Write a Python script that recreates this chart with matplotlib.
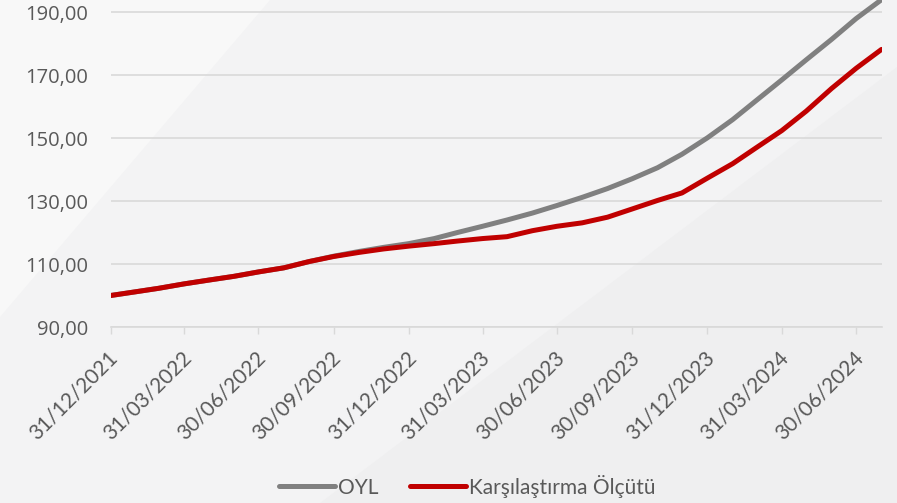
import matplotlib.pyplot as plt
import matplotlib.dates as mdates
from matplotlib.patches import Polygon
from matplotlib.transforms import ScaledTranslation
import pandas as pd

# month-end values (index, 31/12/2021 = 100)
dates = ["2021-12-31",
         "2022-01-31", "2022-02-28", "2022-03-31", "2022-04-30", "2022-05-31", "2022-06-30",
         "2022-07-31", "2022-08-31", "2022-09-30", "2022-10-31", "2022-11-30", "2022-12-31",
         "2023-01-31", "2023-02-28", "2023-03-31", "2023-04-30", "2023-05-31", "2023-06-30",
         "2023-07-31", "2023-08-31", "2023-09-30", "2023-10-31", "2023-11-30", "2023-12-31",
         "2024-01-31", "2024-02-29", "2024-03-31", "2024-04-30", "2024-05-31", "2024-06-30",
         "2024-07-31"]
oyl = [100.0,
       101.2, 102.3, 103.7, 104.9, 106.1, 107.5,
       108.8, 110.8, 112.5, 114.0, 115.3, 116.5,
       118.1, 120.0, 122.0, 124.0, 126.2, 128.6,
       131.2, 134.0, 137.1, 140.6, 144.9, 150.1,
       155.9, 162.0, 168.5, 174.9, 181.4, 188.0,
       194.0]
benchmark = [100.0,
             101.2, 102.3, 103.7, 104.9, 106.1, 107.5,
             108.8, 110.8, 112.4, 113.7, 114.8, 115.7,
             116.5, 117.3, 118.1, 118.7, 120.6, 122.0,
             123.1, 124.9, 127.5, 130.2, 132.6, 137.3,
             141.9, 147.0, 152.4, 158.6, 165.8, 172.2,
             178.2]

tick_dates = ["2021-12-31", "2022-03-31", "2022-06-30", "2022-09-30", "2022-12-31",
              "2023-03-31", "2023-06-30", "2023-09-30", "2023-12-31", "2024-03-31",
              "2024-06-30"]
tick_labels = ["31/12/2021", "31/03/2022", "30/06/2022", "30/09/2022", "31/12/2022",
               "31/03/2023", "30/06/2023", "30/09/2023", "31/12/2023", "31/03/2024",
               "30/06/2024"]
y_ticks = [90, 110, 130, 150, 170, 190]
series_names = ["OYL", "Karşılaştırma Ölçütü"]

x = pd.to_datetime(dates)
W, H = 897, 503

fig = plt.figure(figsize=(8.97, 5.03), dpi=100, facecolor="#f3f3f4")

# soft diagonal background shapes
fig.add_artist(Polygon([(0, 1), (270 / W, 1), (0, 1 - 317 / H)], closed=True,
                       transform=fig.transFigure, facecolor="#f8f8f8", edgecolor="none", zorder=-10))
fig.add_artist(Polygon([(1, 1 - 67 / H), (1, 0), (320 / W, 0)], closed=True,
                       transform=fig.transFigure, facecolor="#efeff0", edgecolor="none", zorder=-10))

ax = fig.add_axes([110.5 / W, 1 - 327 / H, (881.5 - 110.5) / W, 327 / H])
ax.set_facecolor("none")

ax.plot(x, oyl, color="#808080", lw=3.6, solid_capstyle="round", solid_joinstyle="round",
        label=series_names[0], zorder=3)
ax.plot(x, benchmark, color="#c00000", lw=3.6, solid_capstyle="round", solid_joinstyle="round",
        label=series_names[1], zorder=4)

ax.set_xlim(x[0], x[-1])
ax.set_ylim(90, 193.9)

ax.set_yticks(y_ticks)
ax.set_yticklabels([f"{v:.2f}".replace(".", ",") for v in y_ticks],
                   fontfamily="Open Sans", fontsize=14.5, color="#595959")
ax.tick_params(axis="y", length=0, pad=16)
ax.grid(axis="y", color="#d9d9d9", lw=1.2)
ax.set_axisbelow(True)

ax.set_xticks(pd.to_datetime(tick_dates))
ax.set_xticklabels(tick_labels, fontfamily="Lato", fontsize=15, color="#595959",
                   rotation=45, ha="right", va="top", rotation_mode="anchor")
ax.tick_params(axis="x", length=5, width=1, color="#d9d9d9", pad=10)
shift = ScaledTranslation(-3 / 100, 0, fig.dpi_scale_trans)
for lab in ax.get_xticklabels():
    lab.set_transform(lab.get_transform() + shift)

for side in ["top", "right", "left"]:
    ax.spines[side].set_visible(False)
ax.spines["bottom"].set_color("#d9d9d9")
ax.spines["bottom"].set_linewidth(1.2)

ax.legend(loc="center", bbox_to_anchor=(467 / W, 1 - 486 / H), bbox_transform=fig.transFigure,
          ncol=2, frameon=False, handlelength=2.7, handletextpad=0.15, columnspacing=1.5,
          prop={"family": "Lato", "size": 15}, labelcolor="#595959")

fig.savefig("out.png", dpi=100, facecolor=fig.get_facecolor())
